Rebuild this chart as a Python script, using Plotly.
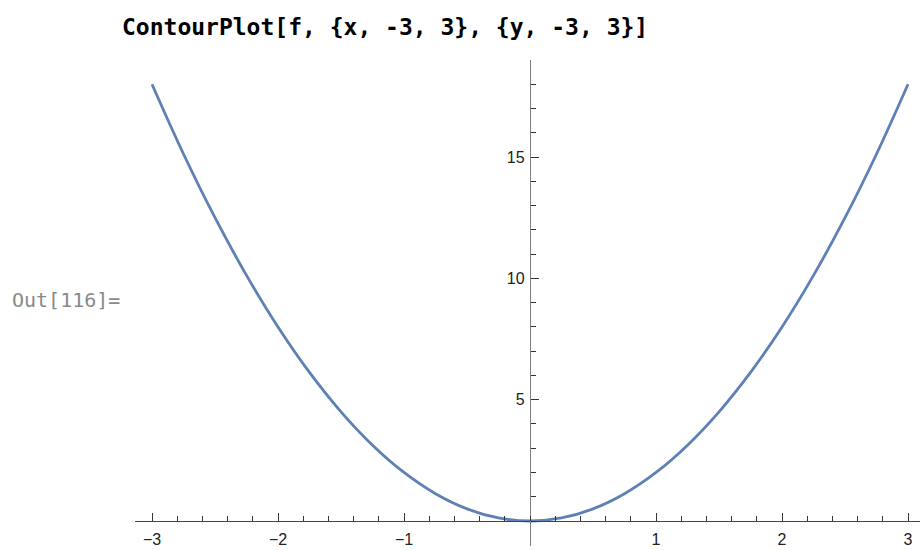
import plotly.graph_objects as go

# Curve samples: x positions and the plotted values
x_vals = [-3.0, -2.75, -2.5, -2.25, -2.0, -1.75, -1.5, -1.25, -1.0, -0.75, -0.5, -0.25,
          0.0, 0.25, 0.5, 0.75, 1.0, 1.25, 1.5, 1.75, 2.0, 2.25, 2.5, 2.75, 3.0]
y_vals = [18.0, 15.125, 12.5, 10.125, 8.0, 6.125, 4.5, 3.125, 2.0, 1.125, 0.5, 0.125,
          0.0, 0.125, 0.5, 1.125, 2.0, 3.125, 4.5, 6.125, 8.0, 10.125, 12.5, 15.125, 18.0]

x_tick_vals = [-3, -2, -1, 1, 2, 3]
x_tick_text = ["\u22123", "\u22122", "\u22121", "1", "2", "3"]
y_tick_vals = [5, 10, 15]
y_tick_text = ["5", "10", "15"]

title_text = "ContourPlot[f, {x, -3, 3}, {y, -3, 3}]"
out_label = "Out[116]="

X_RANGE = [-3.135, 3.095]
Y_RANGE = [-1.03, 19.0]

W, H = 920, 550
M_L, M_R, M_T, M_B = 135, 0, 60, 4

# axes cross at the origin
x_axis_pos = (0 - Y_RANGE[0]) / (Y_RANGE[1] - Y_RANGE[0])
y_axis_pos = (0 - X_RANGE[0]) / (X_RANGE[1] - X_RANGE[0])

fig = go.Figure()
fig.add_trace(go.Scatter(
    x=x_vals, y=y_vals, mode="lines",
    line=dict(color="#5E81B5", width=2.8, shape="spline", smoothing=1.0),
    hoverinfo="skip", showlegend=False,
))

tick_font = dict(family="Liberation Sans, Arial, sans-serif", size=16, color="#222")

fig.update_layout(
    width=W, height=H,
    margin=dict(l=M_L, r=M_R, t=M_T, b=M_B, autoexpand=False),
    paper_bgcolor="white", plot_bgcolor="white",
    title=dict(
        text=title_text,
        font=dict(family="DejaVu Sans Mono", size=23, color="black", weight="bold"),
        x=122 / W, xanchor="left", xref="container",
        y=1 - 27 / H, yanchor="middle", yref="container",
    ),
    xaxis=dict(
        range=X_RANGE, anchor="free", position=x_axis_pos,
        showgrid=False, zeroline=False,
        showline=True, linecolor="#444", linewidth=1.3,
        tickmode="array", tickvals=x_tick_vals, ticktext=x_tick_text,
        ticks="inside", ticklen=8, tickwidth=1, tickcolor="#333",
        minor=dict(ticks="inside", dtick=0.2, tick0=0, ticklen=5, tickwidth=1,
                   tickcolor="#333", showgrid=False),
        tickfont=tick_font, ticklabelstandoff=4,
        automargin=False, fixedrange=True,
    ),
    yaxis=dict(
        range=Y_RANGE, anchor="free", position=y_axis_pos,
        showgrid=False, zeroline=False,
        showline=True, linecolor="#808080", linewidth=1.3,
        tickmode="array", tickvals=y_tick_vals, ticktext=y_tick_text,
        ticks="inside", ticklen=8, tickwidth=1, tickcolor="#333",
        minor=dict(ticks="inside", dtick=1, tick0=0, ticklen=5, tickwidth=1,
                   tickcolor="#333", showgrid=False),
        tickfont=tick_font, ticklabelstandoff=2,
        automargin=False, fixedrange=True,
    ),
    annotations=[dict(
        text=out_label, xref="paper", yref="paper",
        x=(10 - M_L) / (W - M_L - M_R), xanchor="left",
        y=(H - M_B - 300) / (H - M_T - M_B), yanchor="middle",
        showarrow=False,
        font=dict(family="DejaVu Sans Mono", size=20, color="#8a8a8a"),
    )],
)

fig.write_html("out.html")
